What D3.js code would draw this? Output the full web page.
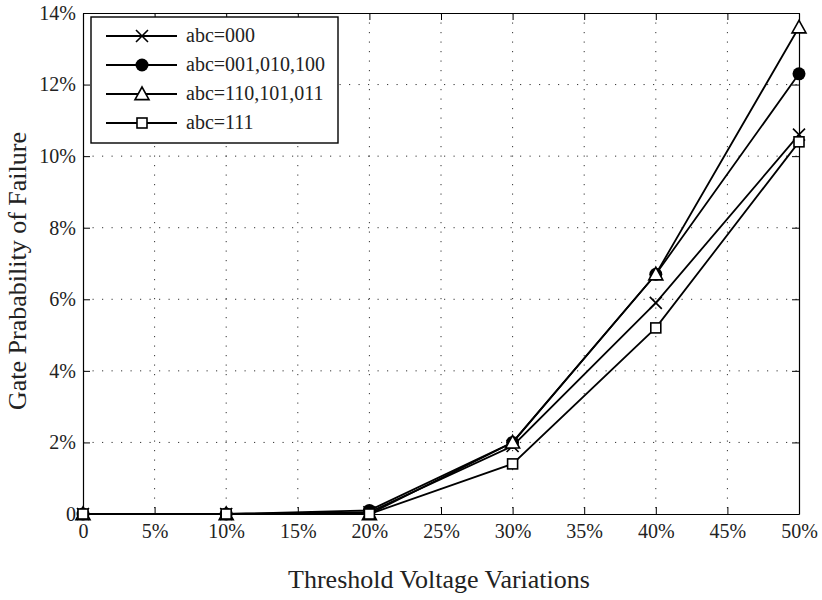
<!DOCTYPE html>
<html><head><meta charset="utf-8">
<script src="https://cdn.jsdelivr.net/npm/d3@7"></script>
<style>body{margin:0;background:#fff}svg{display:block} text{font-family:"Liberation Serif","Times New Roman",serif;}</style>
</head><body>
<svg id="c" width="822" height="600"></svg>
<script>
const xValues = [0, 10, 20, 30, 40, 50];
const seriesNames = ["abc=000", "abc=001,010,100", "abc=110,101,011", "abc=111"];
const seriesMarkers = ["x", "dot", "tri", "sq"];
const s000 = [0, 0, 0.05, 1.9, 5.9, 10.6];
const s001 = [0, 0, 0.1, 2.0, 6.7, 12.3];
const s110 = [0, 0, 0.0, 2.0, 6.7, 13.6];
const s111 = [0, 0, 0.0, 1.4, 5.2, 10.4];
const seriesValues = [s000, s001, s110, s111];
const xTicks = [0, 5, 10, 15, 20, 25, 30, 35, 40, 45, 50];
const yTicks = [0, 2, 4, 6, 8, 10, 12, 14];
const xTickLabels = ["0", "5%", "10%", "15%", "20%", "25%", "30%", "35%", "40%", "45%", "50%"];
const yTickLabels = ["0", "2%", "4%", "6%", "8%", "10%", "12%", "14%"];

const L = 83, R = 799, T = 13, B = 514;
const svg = d3.select("#c");
const font = "Liberation Serif";
const x = d3.scaleLinear().domain([0, 50]).range([L, R]);
const y = d3.scaleLinear().domain([0, 14]).range([B, T]);

// grid
const g = svg.append("g");
g.selectAll(".vg").data(xTicks.slice(1, -1)).enter().append("line")
  .attr("x1", d => x(d)).attr("x2", d => x(d)).attr("y1", T).attr("y2", B)
  .attr("stroke", "#333").attr("stroke-width", 1).attr("stroke-dasharray", "1.2,8.3");
g.selectAll(".hg").data(yTicks.slice(1, -1)).enter().append("line")
  .attr("y1", d => y(d)).attr("y2", d => y(d)).attr("x1", L).attr("x2", R)
  .attr("stroke", "#333").attr("stroke-width", 1).attr("stroke-dasharray", "1.2,8.3");

// axes
const xa = d3.axisBottom(x).tickValues(xTicks).tickFormat((d, i) => xTickLabels[i]).tickSizeInner(-7).tickSizeOuter(0).tickPadding(10);
const ya = d3.axisLeft(y).tickValues(yTicks).tickFormat((d, i) => yTickLabels[i]).tickSizeInner(-7).tickSizeOuter(0).tickPadding(7);
const xt = d3.axisTop(x).tickValues(xTicks).tickFormat("").tickSizeInner(-7).tickSizeOuter(0);
const yr = d3.axisRight(y).tickValues(yTicks).tickFormat("").tickSizeInner(-7).tickSizeOuter(0);
function styleAxis(sel) {
  sel.attr("font-family", font).attr("font-size", 20);
  sel.selectAll("path").attr("stroke", "#000").attr("stroke-width", 1.2);
  sel.selectAll("line").attr("stroke", "#000").attr("stroke-width", 1);
  sel.selectAll("text").attr("fill", "#222");
}
svg.append("g").attr("transform", `translate(0,${B})`).call(xa).call(styleAxis);
svg.append("g").attr("transform", `translate(${L},0)`).call(ya).call(styleAxis);
svg.append("g").attr("transform", `translate(0,${T})`).call(xt).call(styleAxis);
svg.append("g").attr("transform", `translate(${R},0)`).call(yr).call(styleAxis);

// lines
const line = d3.line().x((d, i) => x(xValues[i])).y(d => y(d));
function drawMarker(sel, type, cx, cy) {
  if (type === "x") {
    const s = 6;
    sel.append("path").attr("d", `M${cx - s},${cy - s}L${cx + s},${cy + s}M${cx - s},${cy + s}L${cx + s},${cy - s}`)
      .attr("stroke", "#000").attr("stroke-width", 1.6).attr("fill", "none");
  } else if (type === "dot") {
    sel.append("circle").attr("cx", cx).attr("cy", cy).attr("r", 6.5).attr("fill", "#000");
  } else if (type === "tri") {
    const s = 7;
    sel.append("path").attr("d", `M${cx},${cy - s}L${cx + s},${cy + s * 0.8}L${cx - s},${cy + s * 0.8}Z`)
      .attr("stroke", "#000").attr("stroke-width", 1.6).attr("fill", "#fff");
  } else {
    const s = 5;
    sel.append("rect").attr("x", cx - s).attr("y", cy - s).attr("width", 2 * s).attr("height", 2 * s)
      .attr("stroke", "#000").attr("stroke-width", 1.6).attr("fill", "#fff");
  }
}
seriesValues.forEach((vals, k) => {
  svg.append("path").datum(vals).attr("d", line).attr("fill", "none").attr("stroke", "#000").attr("stroke-width", 1.8);
});
seriesValues.forEach((vals, k) => {
  const mg = svg.append("g");
  vals.forEach((v, i) => drawMarker(mg, seriesMarkers[k], x(xValues[i]), y(v)));
});

// legend
const lg = svg.append("g");
lg.append("rect").attr("x", 91).attr("y", 17).attr("width", 247).attr("height", 126)
  .attr("fill", "#fff").attr("stroke", "#000").attr("stroke-width", 1.4);
const rowY = [36, 65, 94, 123];
seriesNames.forEach((n, k) => {
  lg.append("line").attr("x1", 106).attr("x2", 177).attr("y1", rowY[k]).attr("y2", rowY[k])
    .attr("stroke", "#000").attr("stroke-width", 1.8);
  drawMarker(lg, seriesMarkers[k], 142, rowY[k]);
  lg.append("text").attr("x", 186).attr("y", rowY[k] + 6).text(n)
    .attr("font-family", font).attr("font-size", 20).attr("fill", "#222");
});

// titles
svg.append("text").attr("x", 439).attr("y", 588).attr("text-anchor", "middle")
  .text("Threshold Voltage Variations").attr("font-family", font).attr("font-size", 26).attr("fill", "#222");
svg.append("text").attr("transform", `translate(26,271) rotate(-90)`).attr("text-anchor", "middle")
  .text("Gate Prabability of Failure").attr("font-family", font).attr("font-size", 26).attr("fill", "#222");
</script>
</body></html>
